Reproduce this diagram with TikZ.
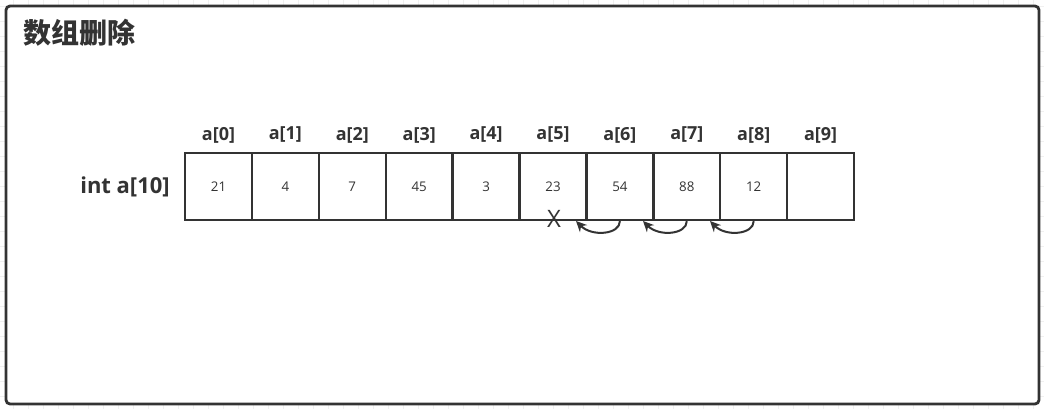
\documentclass[tikz,border=0pt]{standalone}
\usepackage{fontspec}
\setmainfont{Open Sans}
\newfontfamily\cjk{Noto Sans CJK SC}
\usetikzlibrary{arrows.meta}
\definecolor{ink}{HTML}{333333}
\definecolor{gridc}{HTML}{F0F0F0}
\tikzset{
  cell/.style={draw=ink, line width=1.7pt, minimum width=50.25pt, minimum height=50.25pt, inner sep=0pt, font=\fontsize{10pt}{11pt}\selectfont, text=ink},
  idx/.style={font=\fontsize{13.5pt}{15pt}\selectfont\bfseries, text=ink},
  movearrow/.style={draw=ink, line width=1.5pt, -{Stealth[length=8pt,width=7.5pt]}},
}
\begin{document}
\begin{tikzpicture}[x=0.75pt,y=-0.75pt]
\useasboundingbox (0,0) rectangle (1044,409);
\foreach \i in {0,...,69} \draw[gridc, line width=0.5pt] (13+\i*15,0) -- (13+\i*15,409);
\foreach \j in {0,...,27} \draw[gridc, line width=0.5pt] (0,6+\j*15) -- (1044,6+\j*15);
\draw[ink, line width=2.1pt, rounded corners=3pt, fill=white] (6,6) rectangle (1039,404);
\node[font=\cjk\bfseries\fontsize{21pt}{23pt}\selectfont, text=ink, anchor=west] (title) at (19,33) {数组删除};
\node[font=\fontsize{16.5pt}{18pt}\selectfont\bfseries, text=ink] (decl) at (125,187) {int a[10]};
\foreach \v [count=\k from 0] in {21,4,7,45,3,23,54,88,12,{}} {
  \node[cell] (c\k) at (218.5+\k*66.9,186.5) {\v};
  \node[idx] (l\k) at (218.5+\k*66.9,135) {a[\k]};
}
\node[font=\fontsize{18pt}{20pt}\selectfont, text=ink] (x) at (554,219) {X};
\coordinate (t6) at (576,221);
\coordinate (t7) at (643,221);
\coordinate (t8) at (710,221);
\draw[movearrow] (c6.south) .. controls ([yshift=-10pt]c6.south) and ([xshift=-21pt,yshift=-12pt]c6.south) .. (t6);
\draw[movearrow] (c7.south) .. controls ([yshift=-10pt]c7.south) and ([xshift=-21pt,yshift=-12pt]c7.south) .. (t7);
\draw[movearrow] (c8.south) .. controls ([yshift=-10pt]c8.south) and ([xshift=-21pt,yshift=-12pt]c8.south) .. (t8);
\end{tikzpicture}
\end{document}
